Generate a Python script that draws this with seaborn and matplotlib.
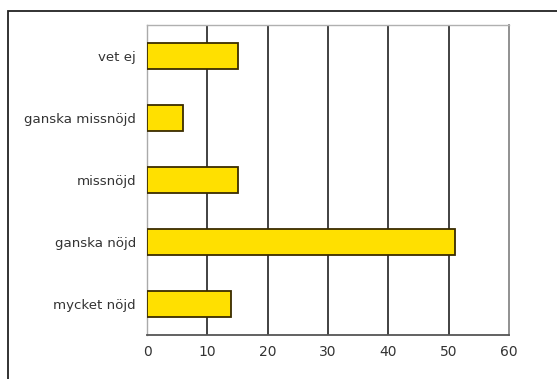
import matplotlib
matplotlib.use("Agg")
import matplotlib.pyplot as plt
import seaborn as sns
import pandas as pd
from matplotlib.patches import Rectangle

categories = ["vet ej", "ganska missnöjd", "missnöjd", "ganska nöjd", "mycket nöjd"]
values = [15, 6, 15, 51, 14]
xticks = [0, 10, 20, 30, 40, 50, 60]

df = pd.DataFrame({"kategori": categories, "varde": values})

sns.set_style("white")
plt.rcParams['font.family'] = ['DejaVu Sans']

W, H = 557, 379
fig = plt.figure(figsize=(W / 100, H / 100), dpi=100)
fig.patch.set_facecolor("white")

# outer frame
fig.patches.append(Rectangle((8 / W, -0.05), 1.2, 1 - 11 / H + 0.05,
                             transform=fig.transFigure, fill=False,
                             edgecolor="#222222", linewidth=1.3, zorder=0))

left, right, top, bottom = 147 / W, 509 / W, 25 / H, 335 / H
ax = fig.add_axes([left, 1 - bottom, right - left, bottom - top])

sns.barplot(data=df, x="varde", y="kategori", orient="h", ax=ax,
            color="#FFE000", edgecolor="#3a2c00", linewidth=1.3,
            width=0.41, saturation=1, zorder=3)

ax.set_xlim(0, 60)
ax.set_ylim(len(categories) - 0.5, -0.5)
ax.set_xticks(xticks)
ax.set_xticklabels([str(t) for t in xticks])
ax.set_xlabel("")
ax.set_ylabel("")

for t in xticks[1:-1]:
    ax.axvline(t, color="#333333", linewidth=1.3, zorder=1)

for side in ["top", "right", "left", "bottom"]:
    ax.spines[side].set_visible(True)
ax.spines["top"].set_color("#b0b0b0")
ax.spines["top"].set_linewidth(1.0)
ax.spines["right"].set_color("#888888")
ax.spines["right"].set_linewidth(1.3)
ax.spines["left"].set_color("#aaaaaa")
ax.spines["left"].set_linewidth(1.0)
ax.spines["bottom"].set_color("#555555")
ax.spines["bottom"].set_linewidth(1.3)

ax.tick_params(axis="y", which="major", length=0, pad=8, labelsize=9.6,
               labelcolor="#333333")
ax.set_yticks([i - 0.5 for i in range(len(categories) + 1)], minor=True)
ax.tick_params(axis="y", which="minor", length=4, color="#aaaaaa", width=1)
ax.tick_params(axis="x", which="major", length=4, color="#666666", width=1,
               labelsize=10, labelcolor="#333333", pad=3)

fig.savefig("out.png", dpi=100)
